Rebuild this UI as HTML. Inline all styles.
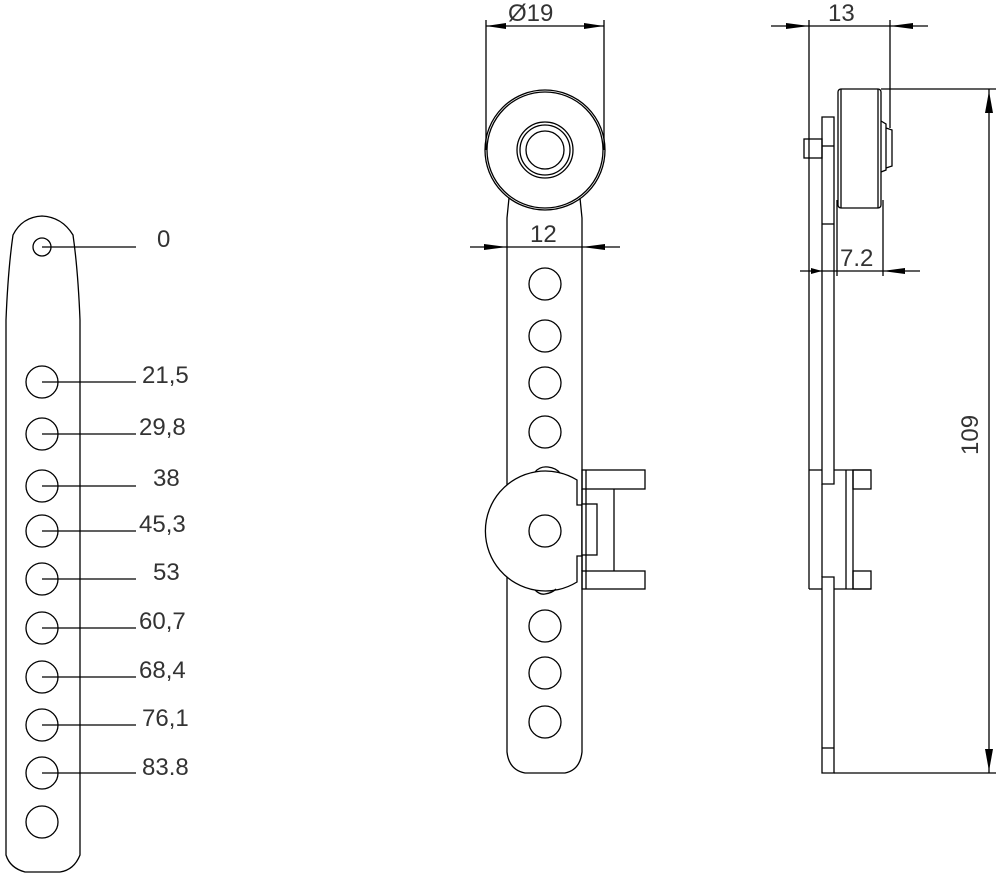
<!DOCTYPE html>
<html><head><meta charset="utf-8"><style>
html,body{margin:0;padding:0;background:#fff}
svg{display:block}
text{font-family:"Liberation Sans",sans-serif;fill:#333;font-size:24px}
</style></head><body>
<svg width="1000" height="880" viewBox="0 0 1000 880" xmlns="http://www.w3.org/2000/svg">
<g fill="none" stroke="#000" stroke-width="1.3">
<!-- LEFT LEVER -->
<path d="M6,855 L6,320 Q8,270 13,235 Q22,217 42,216 Q62,217 73,235 Q78,270 80,320 L80,855 Q74,870 60,872 L25,872 Q10,868 6,855 Z"/>
<circle cx="42" cy="247" r="9"/>
<line x1="42" y1="247" x2="136" y2="247"/>
<circle cx="42" cy="382" r="16"/><line x1="42" y1="382" x2="136" y2="382"/>
<circle cx="42" cy="434" r="16"/><line x1="42" y1="434" x2="136" y2="434"/>
<circle cx="42" cy="486" r="16"/><line x1="42" y1="486" x2="136" y2="486"/>
<circle cx="42" cy="531" r="16"/><line x1="42" y1="531" x2="136" y2="531"/>
<circle cx="42" cy="579" r="16"/><line x1="42" y1="579" x2="136" y2="579"/>
<circle cx="42" cy="628" r="16"/><line x1="42" y1="628" x2="136" y2="628"/>
<circle cx="42" cy="677" r="16"/><line x1="42" y1="677" x2="136" y2="677"/>
<circle cx="42" cy="725" r="16"/><line x1="42" y1="725" x2="136" y2="725"/>
<circle cx="42" cy="773" r="16"/><line x1="42" y1="773" x2="136" y2="773"/>
<circle cx="42" cy="822" r="16"/>

<!-- MIDDLE VIEW -->
<path d="M509,198 L507,218 L507,752 Q509,770 525,773 L565,773 Q580,770 582,752 L582,218 L580,198"/>
<circle cx="545" cy="150" r="60"/>
<circle cx="545" cy="150" r="58"/>
<circle cx="545" cy="150" r="28"/>
<circle cx="545" cy="150" r="25"/>
<circle cx="545" cy="150" r="19"/>
<circle cx="545" cy="284" r="16"/>
<circle cx="545" cy="336" r="16"/>
<circle cx="545" cy="383" r="16"/>
<circle cx="545" cy="432" r="16"/>
<circle cx="545" cy="626" r="16"/>
<circle cx="545" cy="673" r="16"/>
<circle cx="545" cy="722" r="16"/>
<!-- big disc -->
<path d="M577,480 A60,60 0 1 0 577,582 L577,556 L582,556 L582,505 L577,505 Z" fill="#fff"/>
<path d="M535,472 Q540,466 548,467 Q556,468 560,473"/>
<path d="M535,590 Q540,595 545,594 Q552,593 556,589"/>
<circle cx="545" cy="531" r="16"/>
<!-- clamp -->
<rect x="582" y="470" width="63" height="19"/>
<rect x="582" y="571" width="63" height="18"/>
<line x1="614" y1="489" x2="614" y2="571"/>
<line x1="582" y1="489" x2="582" y2="571"/>
<rect x="582" y="504" width="15" height="51" fill="#fff"/>
<line x1="586" y1="470" x2="586" y2="589"/>
<!-- dims -->
<line x1="486" y1="20" x2="486" y2="150"/>
<line x1="604" y1="20" x2="604" y2="150"/>
<line x1="486" y1="26" x2="604" y2="26"/>
<line x1="470" y1="247" x2="620" y2="247"/>

<!-- RIGHT SIDE VIEW -->
<line x1="809" y1="20" x2="809" y2="589"/>
<line x1="809" y1="589" x2="822" y2="589"/>
<line x1="809" y1="470" x2="822" y2="470"/>
<path d="M822,117 L834,117 L834,484 L822,484 Z"/>
<line x1="822" y1="146" x2="834" y2="146"/>
<line x1="822" y1="224" x2="834" y2="224"/>
<path d="M822,484 L822,577"/>
<path d="M822,577 L834,577 L834,773 L822,773 Z"/>
<line x1="822" y1="748" x2="834" y2="748"/>
<line x1="834" y1="773" x2="996" y2="773"/>
<rect x="804" y="139" width="18" height="19"/>
<rect x="838" y="89" width="43" height="119" rx="3"/>
<line x1="841" y1="89" x2="841" y2="208"/>
<line x1="878" y1="89" x2="878" y2="208"/>
<path d="M881,121 L886,124 L886,170 L881,172"/>
<path d="M886,128 L892,130 L892,166 L886,168"/>
<line x1="834" y1="470" x2="871" y2="470"/>
<line x1="834" y1="589" x2="871" y2="589"/>
<line x1="846" y1="470" x2="846" y2="589"/>
<line x1="853" y1="470" x2="853" y2="589"/>
<rect x="853" y="470" width="18" height="19"/>
<rect x="853" y="571" width="18" height="18"/>
<!-- dims right -->
<line x1="890" y1="20" x2="890" y2="128"/>
<line x1="771" y1="26" x2="928" y2="26"/>
<line x1="837" y1="200" x2="837" y2="276"/>
<line x1="883" y1="200" x2="883" y2="276"/>
<line x1="800" y1="271" x2="920" y2="271"/>
<line x1="881" y1="89" x2="996" y2="89"/>
<line x1="989" y1="89" x2="989" y2="773"/>
</g>
<g fill="#000">
<polygon points="486,26 506,23 506,29"/>
<polygon points="604,26 584,23 584,29"/>
<polygon points="507,247 484,244 484,250"/>
<polygon points="582,247 605,244 605,250"/>
<polygon points="809,26 786,23 786,29"/>
<polygon points="890,26 913,23 913,29"/>
<polygon points="822,271 811,268 811,274"/>
<polygon points="883,271 905,268 905,274"/>
<polygon points="989,91 985,113 993,113"/>
<polygon points="989,771 985,749 993,749"/>
</g>
<g>
<text x="157" y="247">0</text>
<text x="142" y="383">21,5</text>
<text x="139" y="435">29,8</text>
<text x="153" y="486">38</text>
<text x="139" y="532">45,3</text>
<text x="153" y="580">53</text>
<text x="139" y="629">60,7</text>
<text x="139" y="678">68,4</text>
<text x="142" y="726">76,1</text>
<text x="142" y="775">83.8</text>
<text x="508" y="21">Ø19</text>
<text x="530" y="242">12</text>
<text x="828" y="21">13</text>
<text x="840" y="266">7.2</text>
<text transform="translate(978,455) rotate(-90)">109</text>
</g>
</svg>
</body></html>
